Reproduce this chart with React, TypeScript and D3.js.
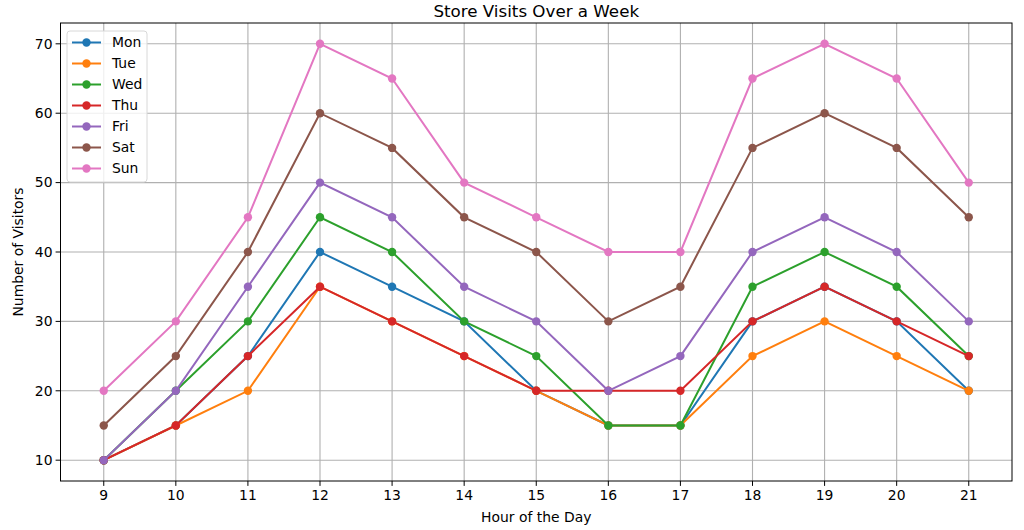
import React from "react";
import * as d3 from "d3";

const hours = [9, 10, 11, 12, 13, 14, 15, 16, 17, 18, 19, 20, 21];
const days = ["Mon", "Tue", "Wed", "Thu", "Fri", "Sat", "Sun"];
const mon = [10, 15, 25, 40, 35, 30, 20, 15, 15, 30, 35, 30, 20];
const tue = [10, 15, 20, 35, 30, 25, 20, 15, 15, 25, 30, 25, 20];
const wed = [10, 20, 30, 45, 40, 30, 25, 15, 15, 35, 40, 35, 25];
const thu = [10, 15, 25, 35, 30, 25, 20, 20, 20, 30, 35, 30, 25];
const fri = [10, 20, 35, 50, 45, 35, 30, 20, 25, 40, 45, 40, 30];
const sat = [15, 25, 40, 60, 55, 45, 40, 30, 35, 55, 60, 55, 45];
const sun = [20, 30, 45, 70, 65, 50, 45, 40, 40, 65, 70, 65, 50];
const seriesValues = [mon, tue, wed, thu, fri, sat, sun];
const colors = ["#1f77b4", "#ff7f0e", "#2ca02c", "#d62728", "#9467bd", "#8c564b", "#e377c2"];
const yTicks = [10, 20, 30, 40, 50, 60, 70];

const W = 1024;
const H = 530;
const left = 60.5;
const right = 1012;
const top = 23;
const bottom = 481;
const font = "DejaVu Sans, sans-serif";

export default function App() {
  const x = d3.scaleLinear().domain([8.4, 21.6]).range([left, right]);
  const y = d3.scaleLinear().domain([7, 73]).range([bottom, top]);
  const line = d3
    .line<number>()
    .x((_, i) => x(hours[i]))
    .y((v) => y(v));

  return (
    <svg width={W} height={H} style={{ position: "absolute", left: 0, top: 0 }} fontFamily={font}>
      <rect x={0} y={0} width={W} height={H} fill="#fff" />
      {/* grid */}
      {hours.map((h) => (
        <line key={"gx" + h} x1={x(h)} x2={x(h)} y1={top} y2={bottom} stroke="#b0b0b0" strokeWidth={1.1} />
      ))}
      {yTicks.map((t) => (
        <line key={"gy" + t} x1={left} x2={right} y1={y(t)} y2={y(t)} stroke="#b0b0b0" strokeWidth={1.1} />
      ))}
      {/* series */}
      {seriesValues.map((vals, si) => (
        <g key={days[si]}>
          <path d={line(vals) || ""} fill="none" stroke={colors[si]} strokeWidth={2} />
          {vals.map((v, i) => (
            <circle key={i} cx={x(hours[i])} cy={y(v)} r={4.2} fill={colors[si]} />
          ))}
        </g>
      ))}
      {/* axes frame */}
      <rect x={left} y={top} width={right - left} height={bottom - top} fill="none" stroke="#000" strokeWidth={1} />
      {/* x ticks */}
      {hours.map((h) => (
        <g key={"xt" + h}>
          <line x1={x(h)} x2={x(h)} y1={bottom} y2={bottom + 4.9} stroke="#000" strokeWidth={1} />
          <text x={x(h)} y={bottom + 19} textAnchor="middle" fontSize={13.9} fill="#000">
            {h}
          </text>
        </g>
      ))}
      {/* y ticks */}
      {yTicks.map((t) => (
        <g key={"yt" + t}>
          <line x1={left - 4.9} x2={left} y1={y(t)} y2={y(t)} stroke="#000" strokeWidth={1} />
          <text x={left - 8} y={y(t)} dy="0.35em" textAnchor="end" fontSize={13.9} fill="#000">
            {t}
          </text>
        </g>
      ))}
      {/* labels */}
      <text x={(left + right) / 2} y={522} textAnchor="middle" fontSize={13.9} fill="#000">
        Hour of the Day
      </text>
      <text
        transform={`translate(23, ${(top + bottom) / 2}) rotate(-90)`}
        textAnchor="middle"
        fontSize={13.9}
        fill="#000"
      >
        Number of Visitors
      </text>
      <text x={(left + right) / 2} y={17} textAnchor="middle" fontSize={16.7} fill="#000">
        Store Visits Over a Week
      </text>
      {/* legend */}
      <rect x={67} y={31} width={80} height={151} rx={3} fill="#fff" fillOpacity={0.8} stroke="#d8d8d8" strokeWidth={1} />
      {days.map((d, i) => {
        const ly = 42.5 + i * 21;
        return (
          <g key={"lg" + d}>
            <line x1={72} x2={101} y1={ly} y2={ly} stroke={colors[i]} strokeWidth={2} />
            <circle cx={86.5} cy={ly} r={4.2} fill={colors[i]} />
            <text x={112} y={ly} dy="0.35em" fontSize={13.9} fill="#000">
              {d}
            </text>
          </g>
        );
      })}
    </svg>
  );
}
